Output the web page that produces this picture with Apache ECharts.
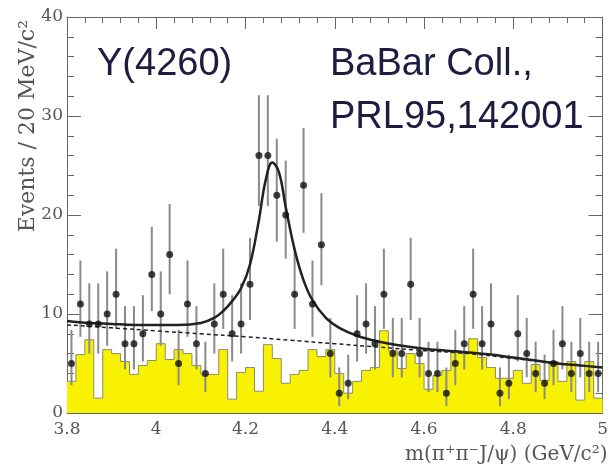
<!DOCTYPE html>
<html>
<head>
<meta charset="utf-8">
<script src="https://cdn.jsdelivr.net/npm/echarts@6/dist/echarts.min.js"></script>
<style>
  html, body { margin: 0; padding: 0; background: #fff; }
  #root { width: 611px; height: 469px; }
</style>
</head>
<body>
<div id="root"></div>
<script>
// m(pi+ pi- J/psi) bins, 20 MeV each
const massBins = [
  3.81, 3.83, 3.85, 3.87, 3.89, 3.91, 3.93, 3.95, 3.97, 3.99,
  4.01, 4.03, 4.05, 4.07, 4.09, 4.11, 4.13, 4.15, 4.17, 4.19,
  4.21, 4.23, 4.25, 4.27, 4.29, 4.31, 4.33, 4.35, 4.37, 4.39,
  4.41, 4.43, 4.45, 4.47, 4.49, 4.51, 4.53, 4.55, 4.57, 4.59,
  4.61, 4.63, 4.65, 4.67, 4.69, 4.71, 4.73, 4.75, 4.77, 4.79,
  4.81, 4.83, 4.85, 4.87, 4.89, 4.91, 4.93, 4.95, 4.97, 4.99
];
const binWidth = 0.02;

// selected data (points)
const events = [
  5, 11, 9, 9, 10, 12, 7, 7, 8, 14,
  10, 16, 5, 11, 7, 4, 9, 12, 8, 9,
  13, 26, 26, 22, 20, 12, 23, 11, 17, 6,
  2, 3, 8, 9, 7, 12, 6, 6, 13, 6,
  4, 4, 2, 5, 7, 12, 7, 9, 2, 3,
  8, 6, 4, 3, 5, 7, 4, 6, 4, 4
];
const errHigh = [
  3.4, 4.4, 4.1, 4.1, 4.3, 4.6, 3.8, 3.8, 3.9, 4.8,
  4.3, 5.1, 3.4, 4.4, 3.8, 3.2, 4.1, 4.6, 3.9, 4.1,
  4.7, 6.1, 6.1, 5.7, 5.5, 4.6, 5.8, 4.4, 5.2, 3.6,
  2.6, 2.9, 3.9, 4.1, 3.8, 4.6, 3.6, 3.6, 4.7, 3.6,
  3.2, 3.2, 2.6, 3.4, 3.8, 4.6, 3.8, 4.1, 2.6, 2.9,
  3.9, 3.6, 3.2, 2.9, 3.4, 3.8, 3.2, 3.6, 3.2, 3.2
];
const errLow = [
  2.2, 3.3, 3.0, 3.0, 3.2, 3.5, 2.6, 2.6, 2.8, 3.7,
  3.2, 4.0, 2.2, 3.3, 2.6, 1.9, 3.0, 3.5, 2.8, 3.0,
  3.6, 5.1, 5.1, 4.7, 4.4, 3.5, 4.8, 3.3, 4.1, 2.4,
  1.3, 1.6, 2.8, 3.0, 2.6, 3.5, 2.4, 2.4, 3.6, 2.4,
  1.9, 1.9, 1.3, 2.2, 2.6, 3.5, 2.6, 3.0, 1.3, 1.6,
  2.8, 2.4, 1.9, 1.6, 2.2, 2.6, 1.9, 2.4, 1.9, 1.9
];

// scaled J/psi sideband histogram (yellow)
const sideband = [
  3.2, 5.9, 7.4, 1.5, 6.4, 6.0, 5.2, 3.9, 4.8, 5.3,
  7.0, 5.4, 6.4, 6.0, 4.8, 3.9, 3.9, 6.4, 1.4, 4.1,
  4.6, 2.2, 6.9, 5.5, 3.0, 3.9, 4.3, 6.4, 5.7, 6.4,
  4.0, 2.0, 3.2, 4.3, 4.6, 8.3, 6.3, 4.5, 6.0, 5.0,
  2.4, 3.8, 4.3, 6.3, 6.0, 7.5, 5.6, 4.6, 3.5, 3.5,
  4.3, 3.0, 4.9, 3.3, 5.2, 3.2, 5.2, 1.3, 5.2, 1.5
];

// single resonance fit (solid) and its background part (dashed)
const fitMass = [
  3.80, 3.85, 3.90, 3.95, 4.00, 4.05, 4.10, 4.13, 4.15, 4.17,
  4.19, 4.21, 4.23, 4.245, 4.26, 4.275, 4.29, 4.31, 4.33, 4.35,
  4.38, 4.41, 4.45, 4.50, 4.55, 4.60, 4.65, 4.70, 4.75, 4.80,
  4.85, 4.90, 4.95, 5.00
];
const fitTotal = [
  9.3, 9.1, 9.0, 8.9, 8.9, 8.9, 9.1, 9.6, 10.3, 11.3,
  12.6, 15.0, 19.5, 23.5, 25.3, 24.3, 20.8, 16.5, 13.4, 11.4,
  9.6, 8.6, 7.8, 7.2, 6.8, 6.5, 6.3, 6.1, 5.9, 5.6,
  5.3, 5.0, 4.8, 4.6
];
const bgMass = [3.80, 3.90, 4.00, 4.10, 4.20, 4.30, 4.40, 4.50, 4.60, 4.70, 4.80, 4.90, 5.00];
const bgCurve = [8.9, 8.6, 8.3, 8.0, 7.7, 7.35, 7.0, 6.65, 6.3, 6.0, 5.5, 5.0, 4.6];

const xTicks = { min: 3.8, max: 5.0, interval: 0.2 };
const yTicks = { min: 0, max: 40, interval: 10 };

const AXIS_COLOR = '#666';
const LABEL_FONT = '"DejaVu Serif", "Liberation Serif", serif';
const NOTE_FONT = '38px "Liberation Sans", Arial, sans-serif';
const NOTE_COLOR = '#1c1d40';

// histogram as a step line through left bin edges
const histData = massBins.map((m, i) => [m - binWidth / 2, sideband[i]]);
histData.push([massBins[massBins.length - 1] + binWidth / 2, sideband[sideband.length - 1]]);

const pointData = massBins.map((m, i) => [m, events[i]]);
const barData = massBins.map((m, i) => [m, events[i] - errLow[i], events[i] + errHigh[i]]);

const baseX = {
  type: 'value',
  min: xTicks.min,
  max: xTicks.max,
  interval: xTicks.interval,
  axisLine: { show: true, onZero: false, lineStyle: { color: AXIS_COLOR, width: 1 } },
  axisTick: { show: true, inside: true, length: 12, lineStyle: { color: AXIS_COLOR } },
  minorTick: { show: true, splitNumber: 5, length: 6, lineStyle: { color: AXIS_COLOR } },
  splitLine: { show: false },
};
const baseY = {
  type: 'value',
  min: yTicks.min,
  max: yTicks.max,
  interval: yTicks.interval,
  axisLine: { show: true, onZero: false, lineStyle: { color: AXIS_COLOR, width: 1 } },
  axisTick: { show: true, inside: true, length: 14, lineStyle: { color: AXIS_COLOR } },
  minorTick: { show: true, splitNumber: 5, length: 7, lineStyle: { color: AXIS_COLOR } },
  splitLine: { show: false },
};

const options = {
  animation: false,
  backgroundColor: '#fff',
  grid: { left: 67, right: 2, top: 17, bottom: 56 },
  xAxis: [
    Object.assign({}, baseX, {
      position: 'bottom',
      axisLabel: {
        color: '#555', fontFamily: LABEL_FONT, fontSize: 17, margin: 8,
        formatter: (v) => String(+v.toFixed(1)),
      },
    }),
    Object.assign({}, baseX, { position: 'top', axisLabel: { show: false } }),
  ],
  yAxis: [
    Object.assign({}, baseY, {
      position: 'left',
      axisLabel: { color: '#555', fontFamily: LABEL_FONT, fontSize: 17, margin: 4 },
    }),
    Object.assign({}, baseY, { position: 'right', axisLabel: { show: false } }),
  ],
  series: [
    {
      type: 'line',
      name: 'sideband',
      data: histData,
      step: 'end',
      showSymbol: false,
      lineStyle: { color: '#8c8c6a', width: 1 },
      areaStyle: { color: '#f8f200', opacity: 1 },
      z: 1,
    },
    {
      type: 'custom',
      name: 'errors',
      data: barData,
      z: 3,
      renderItem: (params, api) => {
        const a = api.coord([api.value(0), api.value(1)]);
        const b = api.coord([api.value(0), api.value(2)]);
        return {
          type: 'line',
          shape: { x1: a[0], y1: a[1], x2: b[0], y2: b[1] },
          style: { stroke: '#8a8a8a', lineWidth: 2 },
        };
      },
    },
    {
      type: 'line',
      name: 'background',
      data: bgMass.map((m, i) => [m, bgCurve[i]]),
      smooth: true,
      showSymbol: false,
      lineStyle: { color: '#222', width: 1.5, type: [4, 3] },
      z: 4,
    },
    {
      type: 'line',
      name: 'fit',
      data: fitMass.map((m, i) => [m, fitTotal[i]]),
      smooth: 0.4,
      showSymbol: false,
      lineStyle: { color: '#222', width: 2.5 },
      z: 5,
    },
    {
      type: 'scatter',
      name: 'data',
      data: pointData,
      symbol: 'circle',
      symbolSize: 7,
      itemStyle: { color: '#111' },
      z: 6,
    },
  ],
  graphic: [
    { type: 'text', left: 97, top: 46, z: 10, style: { text: 'Y(4260)', font: NOTE_FONT, fill: NOTE_COLOR } },
    { type: 'text', left: 330, top: 46, z: 10, style: { text: 'BaBar Coll.,', font: NOTE_FONT, fill: NOTE_COLOR } },
    { type: 'text', left: 330, top: 99, z: 10, style: { text: 'PRL95,142001', font: NOTE_FONT, fill: NOTE_COLOR } },
    {
      type: 'text', x: 28, y: 20, rotation: Math.PI / 2, z: 10,
      style: {
        text: 'Events / 20 MeV/c²', font: '22px ' + LABEL_FONT, fill: '#555',
        align: 'right', verticalAlign: 'middle',
      },
    },
    {
      type: 'text', left: 405, top: 445, z: 10,
      style: { text: 'm(π⁺π⁻J/ψ) (GeV/c²)', font: '20px ' + LABEL_FONT, fill: '#555' },
    },
  ],
};

const myChart = echarts.init(document.getElementById('root'));
myChart.setOption(options);
</script>
</body>
</html>
